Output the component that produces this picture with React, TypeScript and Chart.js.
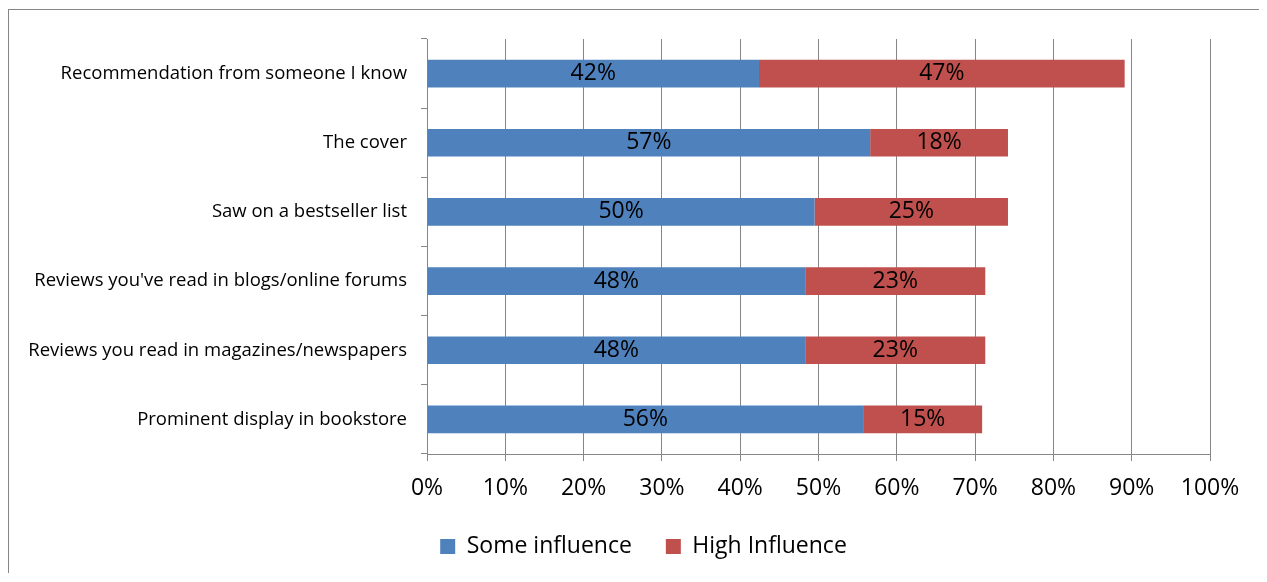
import React, { useEffect, useRef } from "react";
import { Chart, registerables } from "chart.js";

Chart.register(...registerables);

const categories = [
  "Recommendation from someone I know",
  "The cover",
  "Saw on a bestseller list",
  "Reviews you've read in blogs/online forums",
  "Reviews you read in magazines/newspapers",
  "Prominent display in bookstore",
];
const someInfluence = [42.4, 56.6, 49.5, 48.3, 48.3, 55.7];
const highInfluence = [46.7, 17.6, 24.7, 23.0, 23.0, 15.2];
const seriesNames = ["Some influence", "High Influence"];
const xTickMin = 0;
const xTickMax = 100;
const xTickStep = 10;

const FONT = '"Open Sans", sans-serif';
const GRID = "#868686";

const segLabelPlugin = {
  id: "segLabels",
  afterDatasetsDraw(chart: any) {
    const ctx = chart.ctx;
    ctx.save();
    ctx.font = `23px ${FONT}`;
    ctx.fillStyle = "#000";
    ctx.textAlign = "center";
    ctx.textBaseline = "middle";
    chart.data.datasets.forEach((ds: any, i: number) => {
      const meta = chart.getDatasetMeta(i);
      meta.data.forEach((el: any, j: number) => {
        const p = el.getCenterPoint();
        ctx.fillText(Math.round(ds.data[j]) + "%", p.x, p.y);
      });
    });
    ctx.restore();
  },
};

export default function App() {
  const ref = useRef<HTMLCanvasElement | null>(null);
  useEffect(() => {
    document.documentElement.style.overflow = "hidden";
    document.body.style.overflow = "hidden";
    if (!ref.current) return;
    const chart = new Chart(ref.current, {
      type: "bar",
      data: {
        labels: categories,
        datasets: [
          {
            label: seriesNames[0],
            data: someInfluence,
            backgroundColor: "#4F81BD",
            borderWidth: 0,
          },
          {
            label: seriesNames[1],
            data: highInfluence,
            backgroundColor: "#C0504D",
            borderWidth: 0,
          },
        ],
      },
      options: {
        indexAxis: "y",
        responsive: false,
        animation: false,
        datasets: { bar: { barPercentage: 0.4, categoryPercentage: 1 } },
        layout: { padding: { top: 29, right: 0, left: 0, bottom: 6 } },
        scales: {
          x: {
            stacked: true,
            min: xTickMin,
            max: xTickMax,
            ticks: {
              stepSize: xTickStep,
              color: "#000",
              font: { family: FONT, size: 23 },
              padding: 14,
              maxRotation: 0,
              callback: (v: any) => v + "%",
            },
            grid: { color: GRID, tickLength: 7, drawTicks: true, lineWidth: 1 },
            border: { color: GRID, width: 1 },
            afterFit: (s: any) => {
              s.height = 47;
            },
          },
          y: {
            stacked: true,
            ticks: {
              color: "#000",
              font: { family: FONT, size: 18.5 },
              padding: 14,
            },
            grid: { drawOnChartArea: false, color: GRID, tickLength: 6, drawTicks: true },
            border: { color: GRID, width: 1 },
            afterFit: (s: any) => {
              s.width = 418;
            },
          },
          yRight: {
            type: "linear",
            position: "right",
            display: true,
            grid: { display: false, drawTicks: false },
            border: { display: false },
            ticks: { display: false },
            afterFit: (s: any) => {
              s.width = 68;
            },
          },
        },
        plugins: {
          legend: {
            position: "bottom",
            labels: {
              boxWidth: 15,
              boxHeight: 15,
              padding: 34,
              color: "#000",
              font: { family: FONT, size: 23 },
            },
          },
          tooltip: { enabled: false },
        },
      },
      plugins: [segLabelPlugin],
    } as any);
    return () => chart.destroy();
  }, []);
  return (
    <div
      style={{
        position: "relative",
        top: 1,
        borderTop: `1px solid ${GRID}`,
        borderLeft: `1px solid ${GRID}`,
        width: 1258,
        height: 564,
        overflow: "hidden",
      }}
    >
      <canvas ref={ref} width={1269} height={564} style={{ display: "block" }} />
    </div>
  );
}
